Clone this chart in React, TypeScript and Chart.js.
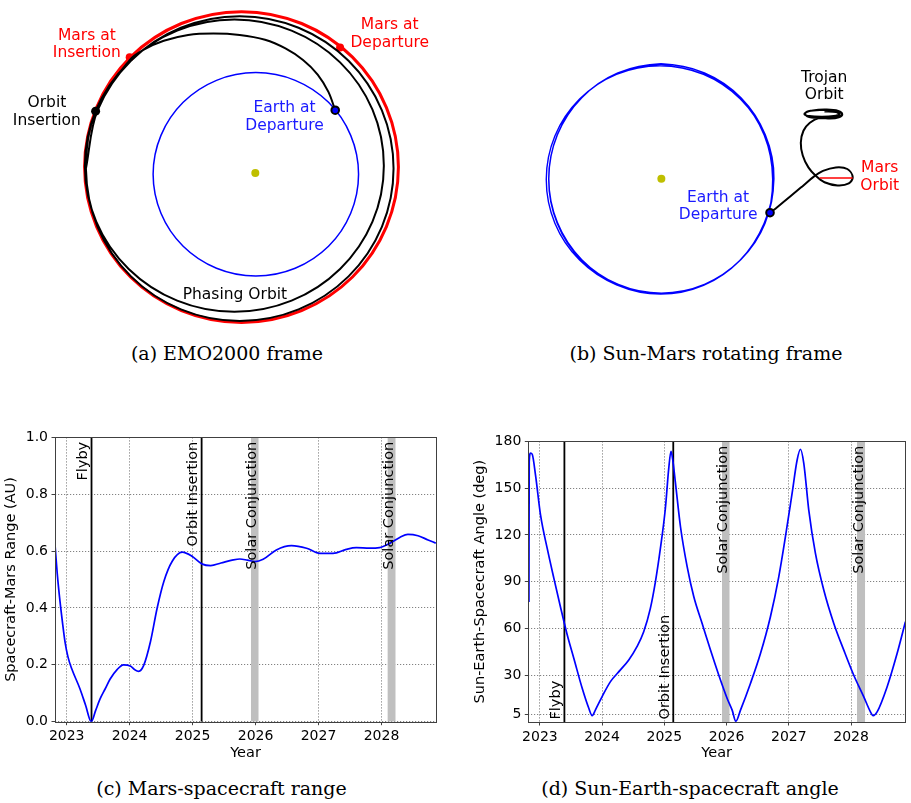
import React, { useEffect, useRef } from 'react';
import { Chart, registerables } from 'chart.js';

Chart.register(...registerables);

const SANS = "'DejaVu Sans', sans-serif";
Chart.defaults.font.family = SANS;
Chart.defaults.color = '#000';

// ================= Panel (a): EMO2000 frame (AU, Sun at origin) =================
const earthOrbitA: number[][] = [
  [1.0, -0.014], [0.924, 0.367], [0.709, 0.69], [0.386, 0.905], [0.005, 0.981], [-0.376, 0.905],
  [-0.699, 0.69], [-0.914, 0.367], [-0.99, -0.014], [-0.914, -0.395], [-0.699, -0.718], [-0.376, -0.933],
  [0.005, -1.009], [0.386, -0.933], [0.709, -0.718], [0.924, -0.395],
];
const marsOrbitA: number[][] = [
  [1.386, 0.057], [1.27, 0.639], [0.941, 1.132], [0.448, 1.461], [-0.134, 1.577], [-0.716, 1.461],
  [-1.209, 1.132], [-1.538, 0.639], [-1.654, 0.057], [-1.538, -0.525], [-1.209, -1.018], [-0.716, -1.347],
  [-0.134, -1.463], [0.448, -1.347], [0.941, -1.018], [1.27, -0.525],
];
const transferArcA: number[][] = [
  [0.774, 0.613], [0.708, 0.792], [0.604, 0.962], [0.462, 1.104], [0.292, 1.217], [0.094, 1.302],
  [-0.151, 1.349], [-0.406, 1.363], [-0.651, 1.349], [-0.887, 1.292], [-1.075, 1.208], [-1.217, 1.104],
];
const phasingOrbitA: number[][] = [
  [-1.541, 0.618], [-1.651, 0.071], [-1.541, -0.476], [-1.227, -0.939], [-0.757, -1.249], [-0.203, -1.358],
  [0.351, -1.249], [0.821, -0.939], [1.135, -0.476], [1.245, 0.071], [1.135, 0.618], [0.821, 1.081],
  [0.351, 1.391], [-0.203, 1.5], [-0.757, 1.391], [-1.227, 1.081], [-1.547, 0.604],
];
const trojanOrbitA: number[][] = [
  [-1.641, 0.042], [-1.528, -0.528], [-1.205, -1.012], [-0.721, -1.335], [-0.151, -1.448], [0.419, -1.335],
  [0.903, -1.012], [1.226, -0.528], [1.339, 0.042], [1.226, 0.612], [0.903, 1.096], [0.419, 1.419],
  [-0.151, 1.532], [-0.721, 1.419], [-1.205, 1.096], [-1.528, 0.612], [-1.641, 0.042],
];
const sunA: number[][] = [[0, 0]];
const earthDepartureA: number[][] = [[0.774, 0.613]];
const marsDepartureA: number[][] = [[0.821, 1.226]];
const marsInsertionA: number[][] = [[-1.217, 1.132]];
const orbitInsertionA: number[][] = [[-1.547, 0.604]];

// ================= Panel (b): Sun-Mars rotating frame (AU) =================
const earthLoopsB: number[][] = [
  [0.98, 0], [0.905, 0.385], [0.693, 0.711], [0.375, 0.929], [0, 1.005], [-0.375, 0.929], [-0.693, 0.711],
  [-0.905, 0.385], [-0.98, 0], [-0.905, -0.385], [-0.693, -0.711], [-0.375, -0.929], [0, -1.005],
  [0.375, -0.929], [0.693, -0.711], [0.905, -0.385],
  [0.978, -0.008], [0.903, 0.375], [0.688, 0.699], [0.367, 0.916], [-0.012, 0.992], [-0.391, 0.916],
  [-0.712, 0.699], [-0.927, 0.375], [-1.002, -0.008], [-0.927, -0.391], [-0.712, -0.715], [-0.391, -0.932],
  [-0.012, -1.008], [0.367, -0.932], [0.688, -0.715], [0.903, -0.391],
  [0.969, -0.004], [0.895, 0.383], [0.683, 0.71], [0.367, 0.929], [-0.006, 1.006], [-0.379, 0.929],
  [-0.695, 0.71], [-0.907, 0.383], [-0.981, -0.004], [-0.907, -0.391], [-0.695, -0.718], [-0.379, -0.937],
  [-0.006, -1.014], [0.367, -0.937], [0.683, -0.718], [0.895, -0.391],
];
const trajectoryB: number[][] = [
  [0.946, -0.299], [1.011, -0.248], [1.124, -0.155], [1.237, -0.059], [1.322, 0.014], [1.407, 0.068],
  [1.519, 0.099], [1.619, 0.085], [1.666, 0.014], [1.632, -0.042], [1.534, -0.059], [1.42, -0.031],
  [1.344, 0.025], [1.28, 0.099], [1.231, 0.203], [1.214, 0.316], [1.237, 0.421], [1.293, 0.492],
  [1.378, 0.534],
];
const trojanScribbleB: number[][] = [
  [1.47, 0.528], [1.545, 0.54], [1.575, 0.566], [1.54, 0.595], [1.44, 0.607], [1.32, 0.6], [1.25, 0.575],
  [1.27, 0.548], [1.36, 0.532], [1.48, 0.534], [1.56, 0.552], [1.57, 0.575], [1.5, 0.598], [1.38, 0.603],
  [1.28, 0.592], [1.245, 0.567], [1.29, 0.55], [1.4, 0.545], [1.5, 0.55], [1.55, 0.565], [1.52, 0.585],
  [1.42, 0.59],
];
const marsOrbitB: number[][] = [[1.378, 0.006], [1.666, 0.006]];
const sunB: number[][] = [[0, 0]];
const earthDepartureB: number[][] = [[0.946, -0.299]];

// ================= Panel (c): Mars-spacecraft range =================
const rangeYears = [
  2022.814, 2022.85, 2022.894, 2022.935, 2022.973, 2023.02, 2023.08, 2023.21, 2023.3, 2023.39, 2023.46,
  2023.53, 2023.61, 2023.69, 2023.8, 2023.9, 2024.01, 2024.08, 2024.144, 2024.223, 2024.33, 2024.436,
  2024.543, 2024.676, 2024.835, 2024.995, 2025.154, 2025.287, 2025.45, 2025.646, 2025.75, 2025.87, 2025.99,
  2026.12, 2026.33, 2026.57, 2026.81, 2027.02, 2027.23, 2027.44, 2027.6, 2027.81, 2027.97, 2028.13, 2028.29,
  2028.42, 2028.58, 2028.74, 2028.862,
];
const rangeAU = [
  0.623, 0.52, 0.422, 0.345, 0.281, 0.228, 0.186, 0.116, 0.058, 0.0, 0.04, 0.08, 0.115, 0.15, 0.183, 0.2,
  0.196, 0.183, 0.177, 0.198, 0.281, 0.399, 0.493, 0.564, 0.596, 0.581, 0.554, 0.549, 0.558, 0.569, 0.572,
  0.568, 0.563, 0.571, 0.604, 0.619, 0.61, 0.592, 0.592, 0.606, 0.612, 0.61, 0.612, 0.627, 0.648, 0.659,
  0.654, 0.639, 0.628,
];

// ================= Panel (d): Sun-Earth-spacecraft angle =================
const angleYears = [
  2022.824, 2022.829, 2022.85, 2022.877, 2022.93, 2023.011, 2023.118, 2023.225, 2023.33, 2023.44, 2023.545,
  2023.68, 2023.786, 2023.84, 2023.893, 2024.0, 2024.134, 2024.294, 2024.428, 2024.56, 2024.668, 2024.775,
  2024.856, 2024.936, 2025.016, 2025.07, 2025.107, 2025.139, 2025.179, 2025.259, 2025.366, 2025.473,
  2025.607, 2025.741, 2025.875, 2026.009, 2026.089, 2026.148, 2026.223, 2026.383, 2026.544, 2026.704,
  2026.838, 2026.945, 2027.052, 2027.133, 2027.186, 2027.24, 2027.32, 2027.427, 2027.561, 2027.722,
  2027.883, 2028.043, 2028.204, 2028.311, 2028.354, 2028.418, 2028.578, 2028.739, 2028.873,
];
const angleDeg = [
  77, 166.8, 172.5, 171.7, 158.3, 132.6, 111.3, 92.1, 73.9, 55.8, 40.9, 21.6, 8.8, 4.1, 7.8, 16.3, 25.9,
  33.4, 39.8, 48.3, 57.9, 72.9, 89.9, 111.3, 136.9, 162.5, 173.6, 166.8, 153, 125.2, 99.6, 80.3, 63.2, 46.1,
  30.0, 15.1, 7.6, 0.5, 7.6, 24.7, 43.9, 67.5, 93.1, 118.8, 146.6, 168, 174.9, 165.9, 135.9, 108.1, 84.6,
  63.2, 46.1, 30.0, 16.1, 6.5, 4.1, 6.5, 22.5, 43.9, 64.3,
];

// ================= Events & ticks =================
const flybyYear = 2023.394;
const insertionYear = 2025.143;
const conjunctionStart = [2025.925, 2028.094];
const conjunctionEnd = [2026.05, 2028.226];
const yearTicks = [2023, 2024, 2025, 2026, 2027, 2028];
const rangeTicks = [0, 0.2, 0.4, 0.6, 0.8, 1.0];
const angleTicks = [5, 30, 60, 90, 120, 150, 180];

// ================= helpers =================
const toXY = (pts: number[][]) => pts.map(([x, y]) => ({ x, y }));
const zip = (xs: number[], ys: number[]) => xs.map((x, i) => ({ x, y: ys[i] }));

const curve = (pts: number[][], color: string, width: number, tension = 0.34, closed = false) => ({
  data: toXY(pts),
  showLine: true,
  borderColor: color,
  borderWidth: width,
  pointRadius: 0,
  tension,
  fill: false,
  closed,
});
const marker = (pts: number[][], fillColor: string, edge: string, r: number, bw: number) => ({
  data: toXY(pts),
  showLine: false,
  pointRadius: r,
  pointBackgroundColor: fillColor,
  pointBorderColor: edge,
  pointBorderWidth: bw,
});

// closes orbit curves smoothly (same mechanism Chart.js uses for radar lines)
const closedLoopPlugin = {
  id: 'closedLoops',
  afterDatasetUpdate(chart: any, args: any) {
    const ds = chart.data.datasets[args.index];
    const line = args.meta && args.meta.dataset;
    if (ds && ds.closed && line) {
      line._loop = true;
      line._fullLoop = true;
      line._segments = undefined;
      line._path = undefined;
      line._pointsUpdated = false;
    }
  },
};

const orbitLabelsPlugin = {
  id: 'orbitLabels',
  afterDatasetsDraw(chart: any, _args: any, opts: any) {
    const items = (opts && opts.items) || [];
    const { ctx } = chart;
    const xs = chart.scales.x;
    const ys = chart.scales.y;
    ctx.save();
    ctx.font = `15.5px ${SANS}`;
    ctx.textAlign = 'center';
    ctx.textBaseline = 'middle';
    items.forEach((it: any) => {
      ctx.fillStyle = it.color;
      const lines = it.text.split('\n');
      const cx = xs.getPixelForValue(it.x);
      const cy = ys.getPixelForValue(it.y);
      lines.forEach((ln: string, i: number) => {
        ctx.fillText(ln, cx, cy + (i - (lines.length - 1) / 2) * 17.5);
      });
    });
    ctx.restore();
  },
};

const timePlugin = {
  id: 'timeNotes',
  afterDatasetsDraw(chart: any, _args: any, opts: any) {
    const items = (opts && opts.items) || [];
    const { ctx, chartArea } = chart;
    const xs = chart.scales.x;
    ctx.save();
    ctx.font = `14.5px ${SANS}`;
    ctx.fillStyle = '#000';
    ctx.textBaseline = 'bottom';
    items.forEach((it: any) => {
      const px = xs.getPixelForValue(it.x) + it.dx;
      const py = it.anchor === 'top' ? chartArea.top + 4.5 : chartArea.bottom - 2.5;
      ctx.save();
      ctx.translate(px, py);
      ctx.rotate(-Math.PI / 2);
      ctx.textAlign = it.anchor === 'top' ? 'right' : 'left';
      ctx.fillText(it.text, 0, 0);
      ctx.restore();
    });
    ctx.restore();
  },
  afterDraw(chart: any) {
    const { ctx, chartArea } = chart;
    const l = Math.round(chartArea.left) + 0.5;
    const t = Math.round(chartArea.top) + 0.5;
    const w = Math.round(chartArea.right) - Math.round(chartArea.left);
    const h = Math.round(chartArea.bottom) - Math.round(chartArea.top);
    ctx.save();
    ctx.strokeStyle = '#404040';
    ctx.lineWidth = 1;
    ctx.strokeRect(l, t, w, h);
    ctx.restore();
  },
};

function orbitConfig(datasets: any[], xr: number[], yr: number[], labels: any[]): any {
  return {
    type: 'scatter',
    data: { datasets },
    options: {
      responsive: false,
      animation: false,
      events: [],
      layout: { padding: 0 },
      plugins: { legend: { display: false }, tooltip: { enabled: false }, orbitLabels: { items: labels } },
      scales: {
        x: { type: 'linear', display: false, min: xr[0], max: xr[1] },
        y: { type: 'linear', display: false, min: yr[0], max: yr[1] },
      },
    },
    plugins: [closedLoopPlugin, orbitLabelsPlugin],
  };
}

function timeConfig(p: {
  years: number[];
  values: number[];
  yMin: number;
  yMax: number;
  yTicks: number[];
  yFmt: (v: number) => string;
  yTitle: string;
  yTitlePad: number;
  yWidth: number;
  xHeight: number;
  padding: any;
  notes: any[];
}): any {
  const vline = (x: number) => ({
    data: [{ x, y: p.yMin }, { x, y: p.yMax }],
    showLine: true,
    borderColor: '#000',
    borderWidth: 1.8,
    pointRadius: 0,
    fill: false,
  });
  const band = (s: number, e: number) => ({
    data: [{ x: s, y: p.yMin }, { x: s, y: p.yMax }, { x: e, y: p.yMax }, { x: e, y: p.yMin }],
    showLine: true,
    borderWidth: 0,
    borderColor: 'rgba(0,0,0,0)',
    backgroundColor: '#bfbfbf',
    fill: 'origin',
    pointRadius: 0,
    tension: 0,
  });
  const gridCommon = {
    color: 'rgba(0,0,0,0.62)',
    lineWidth: 0.8,
    tickLength: 3.5,
    tickColor: '#404040',
    tickWidth: 1,
  };
  return {
    type: 'scatter',
    data: {
      datasets: [
        {
          data: zip(p.years, p.values),
          showLine: true,
          borderColor: '#0000ff',
          borderWidth: 1.7,
          pointRadius: 0,
          cubicInterpolationMode: 'monotone',
          fill: false,
        },
        vline(flybyYear),
        vline(insertionYear),
        band(conjunctionStart[0], conjunctionEnd[0]),
        band(conjunctionStart[1], conjunctionEnd[1]),
      ],
    },
    options: {
      responsive: false,
      animation: false,
      events: [],
      layout: { padding: p.padding },
      plugins: { legend: { display: false }, tooltip: { enabled: false }, timeNotes: { items: p.notes } },
      scales: {
        x: {
          type: 'linear',
          min: 2022.814,
          max: 2028.866,
          afterBuildTicks: (s: any) => {
            s.ticks = yearTicks.map((v) => ({ value: v }));
          },
          afterFit: (s: any) => {
            s.height = p.xHeight;
          },
          ticks: {
            autoSkip: false,
            maxRotation: 0,
            padding: 3,
            color: '#000',
            font: { family: SANS, size: 14 },
            callback: (v: number) => String(v),
          },
          grid: gridCommon,
          border: { display: false, dash: [1.2, 1.8] },
          title: {
            display: true,
            text: 'Year',
            color: '#000',
            font: { family: SANS, size: 14.5 },
            padding: { top: 0, bottom: 3.3 },
          },
        },
        y: {
          type: 'linear',
          min: p.yMin,
          max: p.yMax,
          afterBuildTicks: (s: any) => {
            s.ticks = p.yTicks.map((v) => ({ value: v }));
          },
          afterFit: (s: any) => {
            s.width = p.yWidth;
          },
          ticks: {
            autoSkip: false,
            padding: 3.5,
            color: '#000',
            font: { family: SANS, size: 14 },
            callback: (v: number) => p.yFmt(v),
          },
          grid: gridCommon,
          border: { display: false, dash: [1.2, 1.8] },
          title: {
            display: true,
            text: p.yTitle,
            color: '#000',
            font: { family: SANS, size: 14.5 },
            padding: { top: p.yTitlePad, bottom: 0 },
          },
        },
      },
    },
    plugins: [timePlugin],
  };
}

// ================= configs =================
const makeA = () =>
  orbitConfig(
    [
      marker(sunA, '#bfbf00', '#bfbf00', 4, 0),
      marker(earthDepartureA, '#0000ff', '#000000', 3.8, 2),
      marker(orbitInsertionA, '#000000', '#000000', 4.5, 0),
      curve([...transferArcA, ...phasingOrbitA, ...trojanOrbitA], '#000000', 2),
      marker(marsDepartureA, '#ff0000', '#ff0000', 4, 0),
      marker(marsInsertionA, '#ff0000', '#ff0000', 4, 0),
      curve(earthOrbitA, '#0000ff', 1.5, 0.34, true),
      curve(marsOrbitA, '#ff0000', 3, 0.34, true),
    ],
    [-256 / 106, 204 / 106],
    [-167 / 106, 173 / 106],
    [
      { text: 'Mars at\nInsertion', x: -1.632, y: 1.257, color: '#ff0000' },
      { text: 'Mars at\nDeparture', x: 1.302, y: 1.358, color: '#ff0000' },
      { text: 'Orbit\nInsertion', x: -2.019, y: 0.594, color: '#000000' },
      { text: 'Earth at\nDeparture', x: 0.283, y: 0.547, color: '#1a1aff' },
      { text: 'Phasing Orbit', x: -0.198, y: -1.193, color: '#000000' },
    ]
  );

const makeB = () =>
  orbitConfig(
    [
      marker(sunB, '#bfbf00', '#bfbf00', 4, 0),
      marker(earthDepartureB, '#0000ff', '#000000', 3.8, 2),
      curve(marsOrbitB, '#ff0000', 1.5, 0),
      curve([...trajectoryB, ...trojanScribbleB], '#000000', 2, 0.34),
      curve(earthLoopsB, '#0000ff', 1.4, 0.34, true),
    ],
    [-200.7 / 118, 250.3 / 118],
    [-161 / 118, 179 / 118],
    [
      { text: 'Trojan\nOrbit', x: 1.418, y: 0.809, color: '#000000' },
      { text: 'Mars\nOrbit', x: 1.901, y: 0.017, color: '#ff0000' },
      { text: 'Earth at\nDeparture', x: 0.494, y: -0.242, color: '#1a1aff' },
    ]
  );

const makeC = () =>
  timeConfig({
    years: rangeYears,
    values: rangeAU,
    yMin: 0,
    yMax: 1,
    yTicks: rangeTicks,
    yFmt: (v) => v.toFixed(1),
    yTitle: 'Spacecraft-Mars Range (AU)',
    yTitlePad: 3,
    yWidth: 55,
    xHeight: 43.3,
    padding: { left: 0, right: 24, top: 17.3, bottom: 0 },
    notes: [
      { text: 'Flyby', x: flybyYear, anchor: 'top', dx: -1 },
      { text: 'Orbit Insertion', x: insertionYear, anchor: 'top', dx: -1 },
      { text: 'Solar Conjunction', x: conjunctionEnd[0], anchor: 'top', dx: 1.2 },
      { text: 'Solar Conjunction', x: conjunctionEnd[1], anchor: 'top', dx: 1.2 },
    ],
  });

const makeD = () =>
  timeConfig({
    years: angleYears,
    values: angleDeg,
    yMin: 0,
    yMax: 180,
    yTicks: angleTicks,
    yFmt: (v) => String(v),
    yTitle: 'Sun-Earth-Spacecraft Angle (deg)',
    yTitlePad: 11.3,
    yWidth: 68.3,
    xHeight: 43,
    padding: { left: 0, right: 6, top: 21.3, bottom: 0 },
    notes: [
      { text: 'Flyby', x: flybyYear, anchor: 'bottom', dx: -1 },
      { text: 'Orbit Insertion', x: insertionYear, anchor: 'bottom', dx: -1 },
      { text: 'Solar Conjunction', x: conjunctionEnd[0], anchor: 'top', dx: 1.2 },
      { text: 'Solar Conjunction', x: conjunctionEnd[1], anchor: 'top', dx: 1.2 },
    ],
  });

// ================= components =================
function ChartCanvas(props: { make: () => any; left: number; top: number; width: number; height: number }) {
  const ref = useRef<HTMLCanvasElement | null>(null);
  useEffect(() => {
    if (!ref.current) return;
    const chart = new Chart(ref.current, props.make());
    return () => chart.destroy();
  }, []);
  return (
    <canvas
      ref={ref}
      width={props.width}
      height={props.height}
      style={{
        position: 'absolute',
        left: props.left,
        top: props.top,
        width: props.width,
        height: props.height,
        display: 'block',
      }}
    />
  );
}

function Caption(props: { text: string; cx: number; cy: number }) {
  return (
    <div
      style={{
        position: 'absolute',
        left: props.cx - 250,
        top: props.cy - 12,
        width: 500,
        height: 24,
        lineHeight: '24px',
        textAlign: 'center',
        fontFamily: "'DejaVu Serif', serif",
        fontSize: 19,
        color: '#000',
        whiteSpace: 'nowrap',
      }}
    >
      {props.text}
    </div>
  );
}

export default function App() {
  return (
    <div
      style={{
        position: 'absolute',
        left: 0,
        top: 0,
        width: 911,
        height: 803,
        background: '#ffffff',
        overflow: 'hidden',
      }}
    >
      <ChartCanvas make={makeA} left={0} top={0} width={460} height={340} />
      <ChartCanvas make={makeB} left={460} top={0} width={451} height={340} />
      <ChartCanvas make={makeC} left={0} top={420} width={460} height={345} />
      <ChartCanvas make={makeD} left={460} top={420} width={451} height={345} />
      <Caption text="(a) EMO2000 frame" cx={227} cy={353} />
      <Caption text="(b) Sun-Mars rotating frame" cx={706} cy={353} />
      <Caption text="(c) Mars-spacecraft range" cx={221.5} cy={788} />
      <Caption text="(d) Sun-Earth-spacecraft angle" cx={690} cy={788} />
    </div>
  );
}
